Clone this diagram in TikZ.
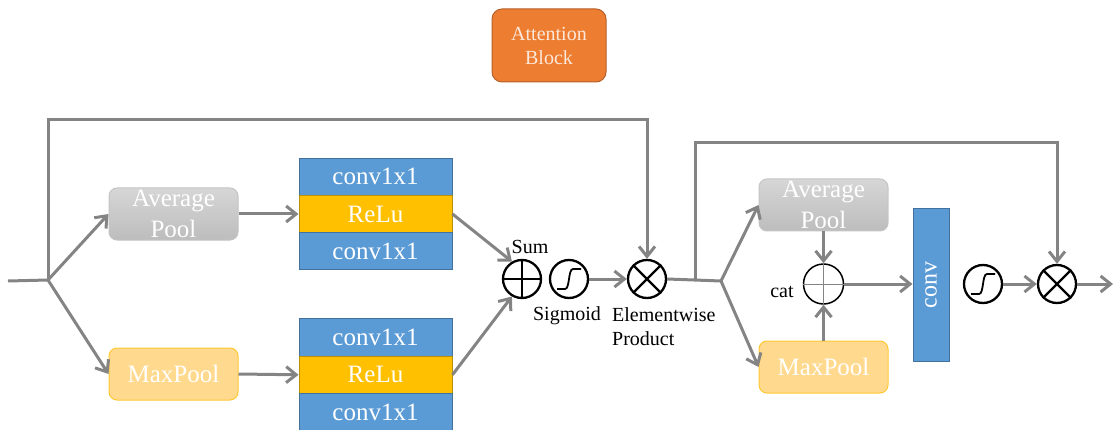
\documentclass[tikz,border=0pt]{standalone}
\usepackage{fontspec}
\setmainfont{Liberation Serif}
\usetikzlibrary{arrows.meta,calc}
\definecolor{lg}{HTML}{848484}
\definecolor{cblue}{HTML}{5B9BD5}
\definecolor{cblueb}{HTML}{41719C}
\definecolor{cgold}{HTML}{FFC000}
\definecolor{cgoldb}{HTML}{B8900A}
\definecolor{corange}{HTML}{ED7D31}
\definecolor{corangeb}{HTML}{B5602A}
\definecolor{cmax}{HTML}{FFD98E}
\definecolor{cmaxb}{HTML}{FFC832}
\definecolor{cavgt}{HTML}{D6D6D6}
\definecolor{cavgb}{HTML}{BDBDBD}
\definecolor{cavgbd}{HTML}{C4C4C4}
\definecolor{ctxt}{HTML}{FCE8DA}
\begin{document}
\begin{tikzpicture}[x=1pt,y=-1pt,
  conn/.style={draw=lg,line width=3pt},
  arr/.style={conn,-{Straight Barb[length=10pt,width=16pt,line width=3pt]}},
  bigfont/.style={font=\fontsize{25}{31}\selectfont},
  smallfont/.style={font=\fontsize{20}{24}\selectfont},
  avgbox/.style={rectangle,rounded corners=8pt,top color=cavgt,bottom color=cavgb,draw=cavgbd,line width=1pt,minimum width=129pt,minimum height=52pt,inner sep=0pt},
  maxbox/.style={rectangle,rounded corners=8pt,fill=cmax,draw=cmaxb,line width=1pt,minimum width=129pt,minimum height=52pt,inner sep=0pt,text=white,bigfont},
  convrow/.style={rectangle,fill=cblue,draw=cblueb,line width=1pt,minimum width=153pt,minimum height=37.3pt,inner sep=0pt,text=white,bigfont},
  relurow/.style={convrow,fill=cgold,draw=cgoldb},
  opcirc/.style={circle,draw=black,line width=2.3pt,minimum size=38pt,inner sep=0pt},
  avgtext/.style={text=white,bigfont,align=center,inner sep=0pt}
]
\useasboundingbox (0,0) rectangle (1115,430);

% Attention block
\node[rectangle,rounded corners=10pt,fill=corange,draw=corangeb,line width=1pt,minimum width=114pt,minimum height=73pt,text=ctxt,smallfont,align=center] (att) at (549,45.5) {Attention\\Block};

% left part
\coordinate (in) at (8,281);
\coordinate (b1) at (48,280);
\node[avgbox,label={[avgtext]center:Average\\Pool}] (avg1) at (173.5,214) {};
\node[maxbox] (max1) at (173.5,374) {MaxPool};

\node[convrow] (c1a) at (375.5,176.7) {conv1x1};
\node[relurow] (r1) at (375.5,214) {ReLu};
\node[convrow] (c1b) at (375.5,251.3) {conv1x1};
\node[convrow] (c2a) at (375.5,337.5) {conv1x1};
\node[relurow] (r2) at (375.5,374.8) {ReLu};
\node[convrow] (c2b) at (375.5,412.1) {conv1x1};

\node[opcirc] (sum) at (522,279) {};
\draw[line width=2.3pt] (sum.north) -- (sum.south) (sum.west) -- (sum.east);
\node[opcirc] (sig) at (569,279) {};
\draw[line width=1.8pt] ($(sig)+(-12,10)$) -- ($(sig)+(-4,10)$) .. controls ($(sig)+(1,10)$) and ($(sig)+(-1,-10)$) .. ($(sig)+(4,-10)$) -- ($(sig)+(12,-10)$);
\node[opcirc] (prod) at (647,279) {};
\draw[line width=2.3pt] (prod.north west) -- (prod.south east) (prod.north east) -- (prod.south west);

\node[smallfont,inner sep=0pt] (lsum) at (530,247) {Sum};
\node[smallfont,inner sep=0pt] (lsig) at (567,316) {Sigmoid};
\node[smallfont,inner sep=0pt,align=left,anchor=north west] (lprod) at (612,307) {Elementwise\\Product};

\draw[conn] (in) -- (b1);
\draw[arr] (b1) -- (avg1.west);
\draw[arr] (b1) -- (max1.west);
\draw[arr] (b1) -- (b1 |- 0,120) -| (prod.north);
\draw[arr] (avg1.east) -- (r1.west);
\draw[arr] (max1.east) -- (r2.west);
\draw[arr] (r1.east) -- (sum.120);
\draw[arr] (r2.east) -- (sum.240);
\draw[arr] (sig.east) -- (prod.west);

% right part
\coordinate (b2) at (721,281);
\coordinate (f2) at (695,281);
\draw[conn] (prod.east) -- (b2);
\node[avgbox,label={[avgtext]center:Average\\Pool}] (avg2) at (823.5,205) {};
\node[maxbox] (max2) at (823.5,367) {MaxPool};
\node[circle,draw=black,line width=1.5pt,minimum size=40pt,inner sep=0pt] (cat) at (823.5,284) {};
\draw[lg,line width=0.8pt] (cat.north) -- (cat.south) (cat.west) -- (cat.east);
\node[smallfont,inner sep=0pt] (lcat) at (782,292) {cat};
\node[rectangle,fill=cblue,draw=cblueb,line width=1pt,minimum width=36pt,minimum height=152pt,inner sep=0pt] (conv) at (931,285) {};
\node[rotate=90,text=white,font=\fontsize{24}{28}\selectfont,inner sep=0pt] (lconv) at (conv.center) {conv};
\node[opcirc] (sig2) at (983,284) {};
\draw[line width=1.8pt] ($(sig2)+(-12,10)$) -- ($(sig2)+(-4,10)$) .. controls ($(sig2)+(1,10)$) and ($(sig2)+(-1,-10)$) .. ($(sig2)+(4,-10)$) -- ($(sig2)+(12,-10)$);
\node[opcirc] (prod2) at (1057,284) {};
\draw[line width=2.3pt] (prod2.north west) -- (prod2.south east) (prod2.north east) -- (prod2.south west);
\coordinate (out) at (1113,284);

\draw[arr] (b2) -- (avg2.west);
\draw[arr] (b2) -- (max2.west);
\draw[arr] (f2) -- (f2 |- 0,143) -| (prod2.north);
\draw[arr] (avg2.south) -- (cat.north);
\draw[arr] (max2.north) -- (cat.south);
\draw[arr] (cat.east) -- (conv.west |- cat.east);
\draw[arr] (sig2.east) -- (prod2.west);
\draw[arr] (prod2.east) -- (out);
\end{tikzpicture}
\end{document}
